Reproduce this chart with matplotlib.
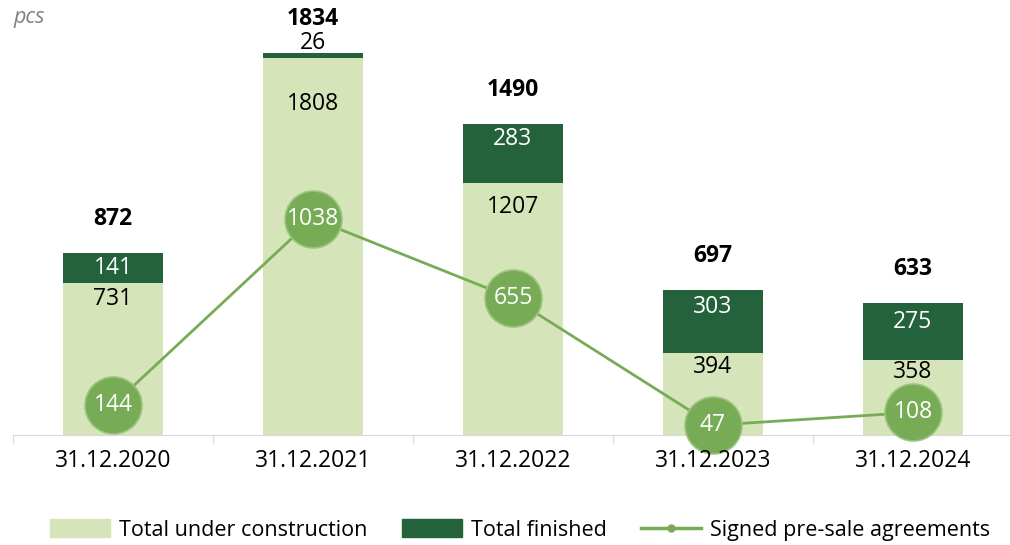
import matplotlib.pyplot as plt
from matplotlib.lines import Line2D
from matplotlib.patches import Patch

plt.rcParams["font.family"] = ["Open Sans", "DejaVu Sans"]

# data
dates = ["31.12.2020", "31.12.2021", "31.12.2022", "31.12.2023", "31.12.2024"]
under_construction = [731, 1808, 1207, 394, 358]
finished = [141, 26, 283, 303, 275]
presale = [144, 1038, 655, 47, 108]

c_light = "#d5e4b9"
c_dark = "#23623a"
c_line = "#78ab55"

fig = plt.figure(figsize=(10.1, 5.45), dpi=100)
ax = fig.add_axes([13 / 1010, 110 / 545, 1000 / 1010, 417 / 545])

x = list(range(len(dates)))
totals = [a + b for a, b in zip(under_construction, finished)]

ax.bar(x, under_construction, width=0.5, color=c_light, zorder=1)
ax.bar(x, finished, width=0.5, bottom=under_construction, color=c_dark, zorder=1)
ax.plot(x, presale, color=c_line, lw=2, zorder=2)
ax.plot(x, presale, "o", ms=41, color=c_line, mec="#9cc47f", mew=1.2, zorder=3, ls="none",
        clip_on=False)

# label offsets (pixels below segment top), tuned by eye
uc_off = [16, 46, 24, 14, 12]
fin_off = [15, -10, 15, 17, 19]

fs = 16.5
for i in x:
    ax.annotate(str(totals[i]), (i, totals[i]), xytext=(0, 34), textcoords="offset pixels",
                ha="center", va="center", fontsize=fs, fontweight="bold", color="black")
    ax.annotate(str(under_construction[i]), (i, under_construction[i]), xytext=(0, -uc_off[i]),
                textcoords="offset pixels", ha="center", va="center", fontsize=fs, color="black")
    fcol = "white" if finished[i] > 100 else "black"
    ax.annotate(str(finished[i]), (i, totals[i]), xytext=(0, -fin_off[i]),
                textcoords="offset pixels", ha="center", va="center", fontsize=fs, color=fcol)
    ax.text(i, presale[i], str(presale[i]), ha="center", va="center", fontsize=fs,
            color="white", zorder=4)

ax.set_xlim(-0.5, 4.5)
ax.set_ylim(0, 2000)
ax.set_yticks([])
for s in ["top", "right", "left"]:
    ax.spines[s].set_visible(False)
ax.spines["bottom"].set_color("#d9d9d9")
ax.set_xticks([i - 0.5 for i in range(len(dates) + 1)])
ax.set_xticklabels([])
ax.tick_params(axis="x", length=6, color="#d9d9d9")
for i in x:
    ax.text(i, -65, dates[i], ha="center", va="top", fontsize=fs, color="black")

fig.text(13 / 1010, 1 - 18 / 545, "pcs", fontsize=15.5, style="italic", color="#808080",
         va="center", ha="left")

handles = [
    Patch(color=c_light, label="Total under construction"),
    Patch(color=c_dark, label="Total finished"),
    Line2D([0], [0], color=c_line, lw=2.5, marker="o", ms=5, label="Signed pre-sale agreements"),
]
fig.legend(handles=handles, loc="center", bbox_to_anchor=(0.515, 1 - 530 / 545), ncol=3,
           frameon=False, fontsize=15.5, handlelength=2.8, handleheight=0.9, columnspacing=1.6,
           handletextpad=0.4)

fig.savefig("out.png", dpi=100)
